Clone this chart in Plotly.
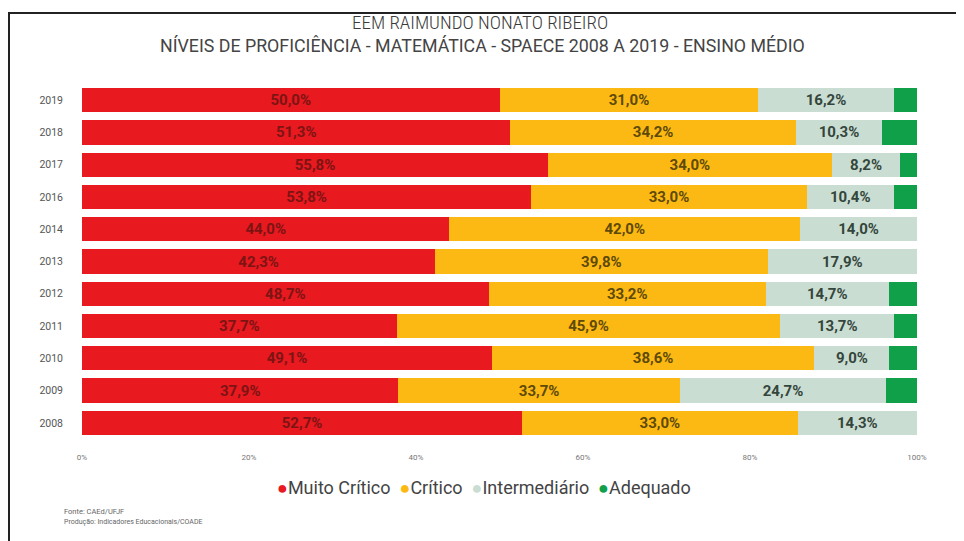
import plotly.graph_objects as go

years = ["2008", "2009", "2010", "2011", "2012", "2013", "2014", "2016", "2017", "2018", "2019"]
muito_critico = [52.7, 37.9, 49.1, 37.7, 48.7, 42.3, 44.0, 53.8, 55.8, 51.3, 50.0]
critico = [33.0, 33.7, 38.6, 45.9, 33.2, 39.8, 42.0, 33.0, 34.0, 34.2, 31.0]
intermediario = [14.3, 24.7, 9.0, 13.7, 14.7, 17.9, 14.0, 10.4, 8.2, 10.3, 16.2]
adequado = [0.0, 3.7, 3.3, 2.7, 3.4, 0.0, 0.0, 2.8, 2.0, 4.2, 2.8]
x_ticks = [0, 20, 40, 60, 80, 100]
x_tick_labels = ["0%", "20%", "40%", "60%", "80%", "100%"]

FONT = "Roboto"
COND = "Roboto Condensed, DejaVu Sans Condensed, Roboto"
OFF = 8  # page body margin
W, H = 964 - OFF, 541 - OFF
PL, PR, PT, PB = 82, 917, 84, 439  # plot area in page pixels
L, T = PL - OFF, PT - OFF
R, B = W - (PR - OFF), H - (PB - OFF)
PW, PH = W - L - R, H - T - B


def px(x):
    return (x - OFF - L) / PW


def py(y):
    return (H - B - (y - OFF)) / PH


series = [
    ("Muito Crítico", muito_critico, "#E8191F", "#7d1414", True),
    ("Crítico", critico, "#FDB913", "#5e4a08", True),
    ("Intermediário", intermediario, "#CADDD2", "#34463c", True),
    ("Adequado", adequado, "#10A04A", "#10A04A", False),
]

fig = go.Figure()
for name, vals, color, tcolor, show_text in series:
    fig.add_trace(go.Bar(
        y=years, x=vals, orientation="h", name=name,
        marker=dict(color=color, line=dict(width=0)),
        text=[f"{v:.1f}%".replace(".", ",") if (show_text and v > 0) else "" for v in vals],
        textposition="inside", insidetextanchor="middle",
        textfont=dict(family=FONT, size=15, color=tcolor, weight="bold"),
        showlegend=False, hoverinfo="skip",
    ))

fig.update_layout(
    barmode="stack", bargap=0.25,
    width=W, height=H,
    margin=dict(l=L, r=R, t=T, b=B),
    paper_bgcolor="white", plot_bgcolor="white",
    separators=",.",
    font=dict(family=FONT, color="#555"),
    xaxis=dict(range=[0, 100], tickvals=x_ticks, ticktext=x_tick_labels,
               showgrid=False, zeroline=False, showline=False,
               tickfont=dict(size=8, color="#777"), ticks="", ticklabelstandoff=12),
    yaxis=dict(type="category", showgrid=False, zeroline=False, showline=False,
               tickfont=dict(size=10.5, color="#555"), ticks="", ticklabelstandoff=18),
    showlegend=False,
    uniformtext=dict(mode="show", minsize=8),
)

# legend row (colored bullets + category names)
legend_html = "&nbsp;&nbsp;".join(
    f"<span style='color:{c}'>●</span>{n}" for n, _, c, _, _ in series
)
fig.add_annotation(text=legend_html, xref="paper", yref="paper",
                   x=px(484), y=py(487), xanchor="center", yanchor="middle", showarrow=False,
                   font=dict(size=18, color="#444", family=FONT))

fig.add_annotation(text="EEM RAIMUNDO NONATO RIBEIRO", xref="paper", yref="paper",
                   x=px(480), y=py(22), xanchor="center", yanchor="middle", showarrow=False,
                   font=dict(size=19, color="#3a3a3a", family=COND, weight=300))
fig.add_annotation(text="NÍVEIS DE PROFICIÊNCIA - MATEMÁTICA - SPAECE 2008 A 2019 - ENSINO MÉDIO",
                   xref="paper", yref="paper", x=px(482), y=py(46), xanchor="center",
                   yanchor="middle", showarrow=False,
                   font=dict(size=17.8, color="#444", family=FONT))
fig.add_annotation(text="Fonte: CAEd/UFJF", xref="paper", yref="paper",
                   x=px(62), y=py(511), xanchor="left", yanchor="middle", showarrow=False,
                   font=dict(size=7.5, color="#666"))
fig.add_annotation(text="Produção: Indicadores Educacionais/COADE", xref="paper", yref="paper",
                   x=px(62), y=py(522), xanchor="left", yanchor="middle", showarrow=False,
                   font=dict(size=7, color="#666"))

# frame lines (top and left)
fig.add_shape(type="line", xref="paper", yref="paper", x0=px(7), x1=px(964), y0=py(13), y1=py(13),
              line=dict(color="#222", width=2))
fig.add_shape(type="line", xref="paper", yref="paper", x0=px(9), x1=px(9), y0=py(13), y1=py(541),
              line=dict(color="#222", width=2))

fig.write_html("out.html")
